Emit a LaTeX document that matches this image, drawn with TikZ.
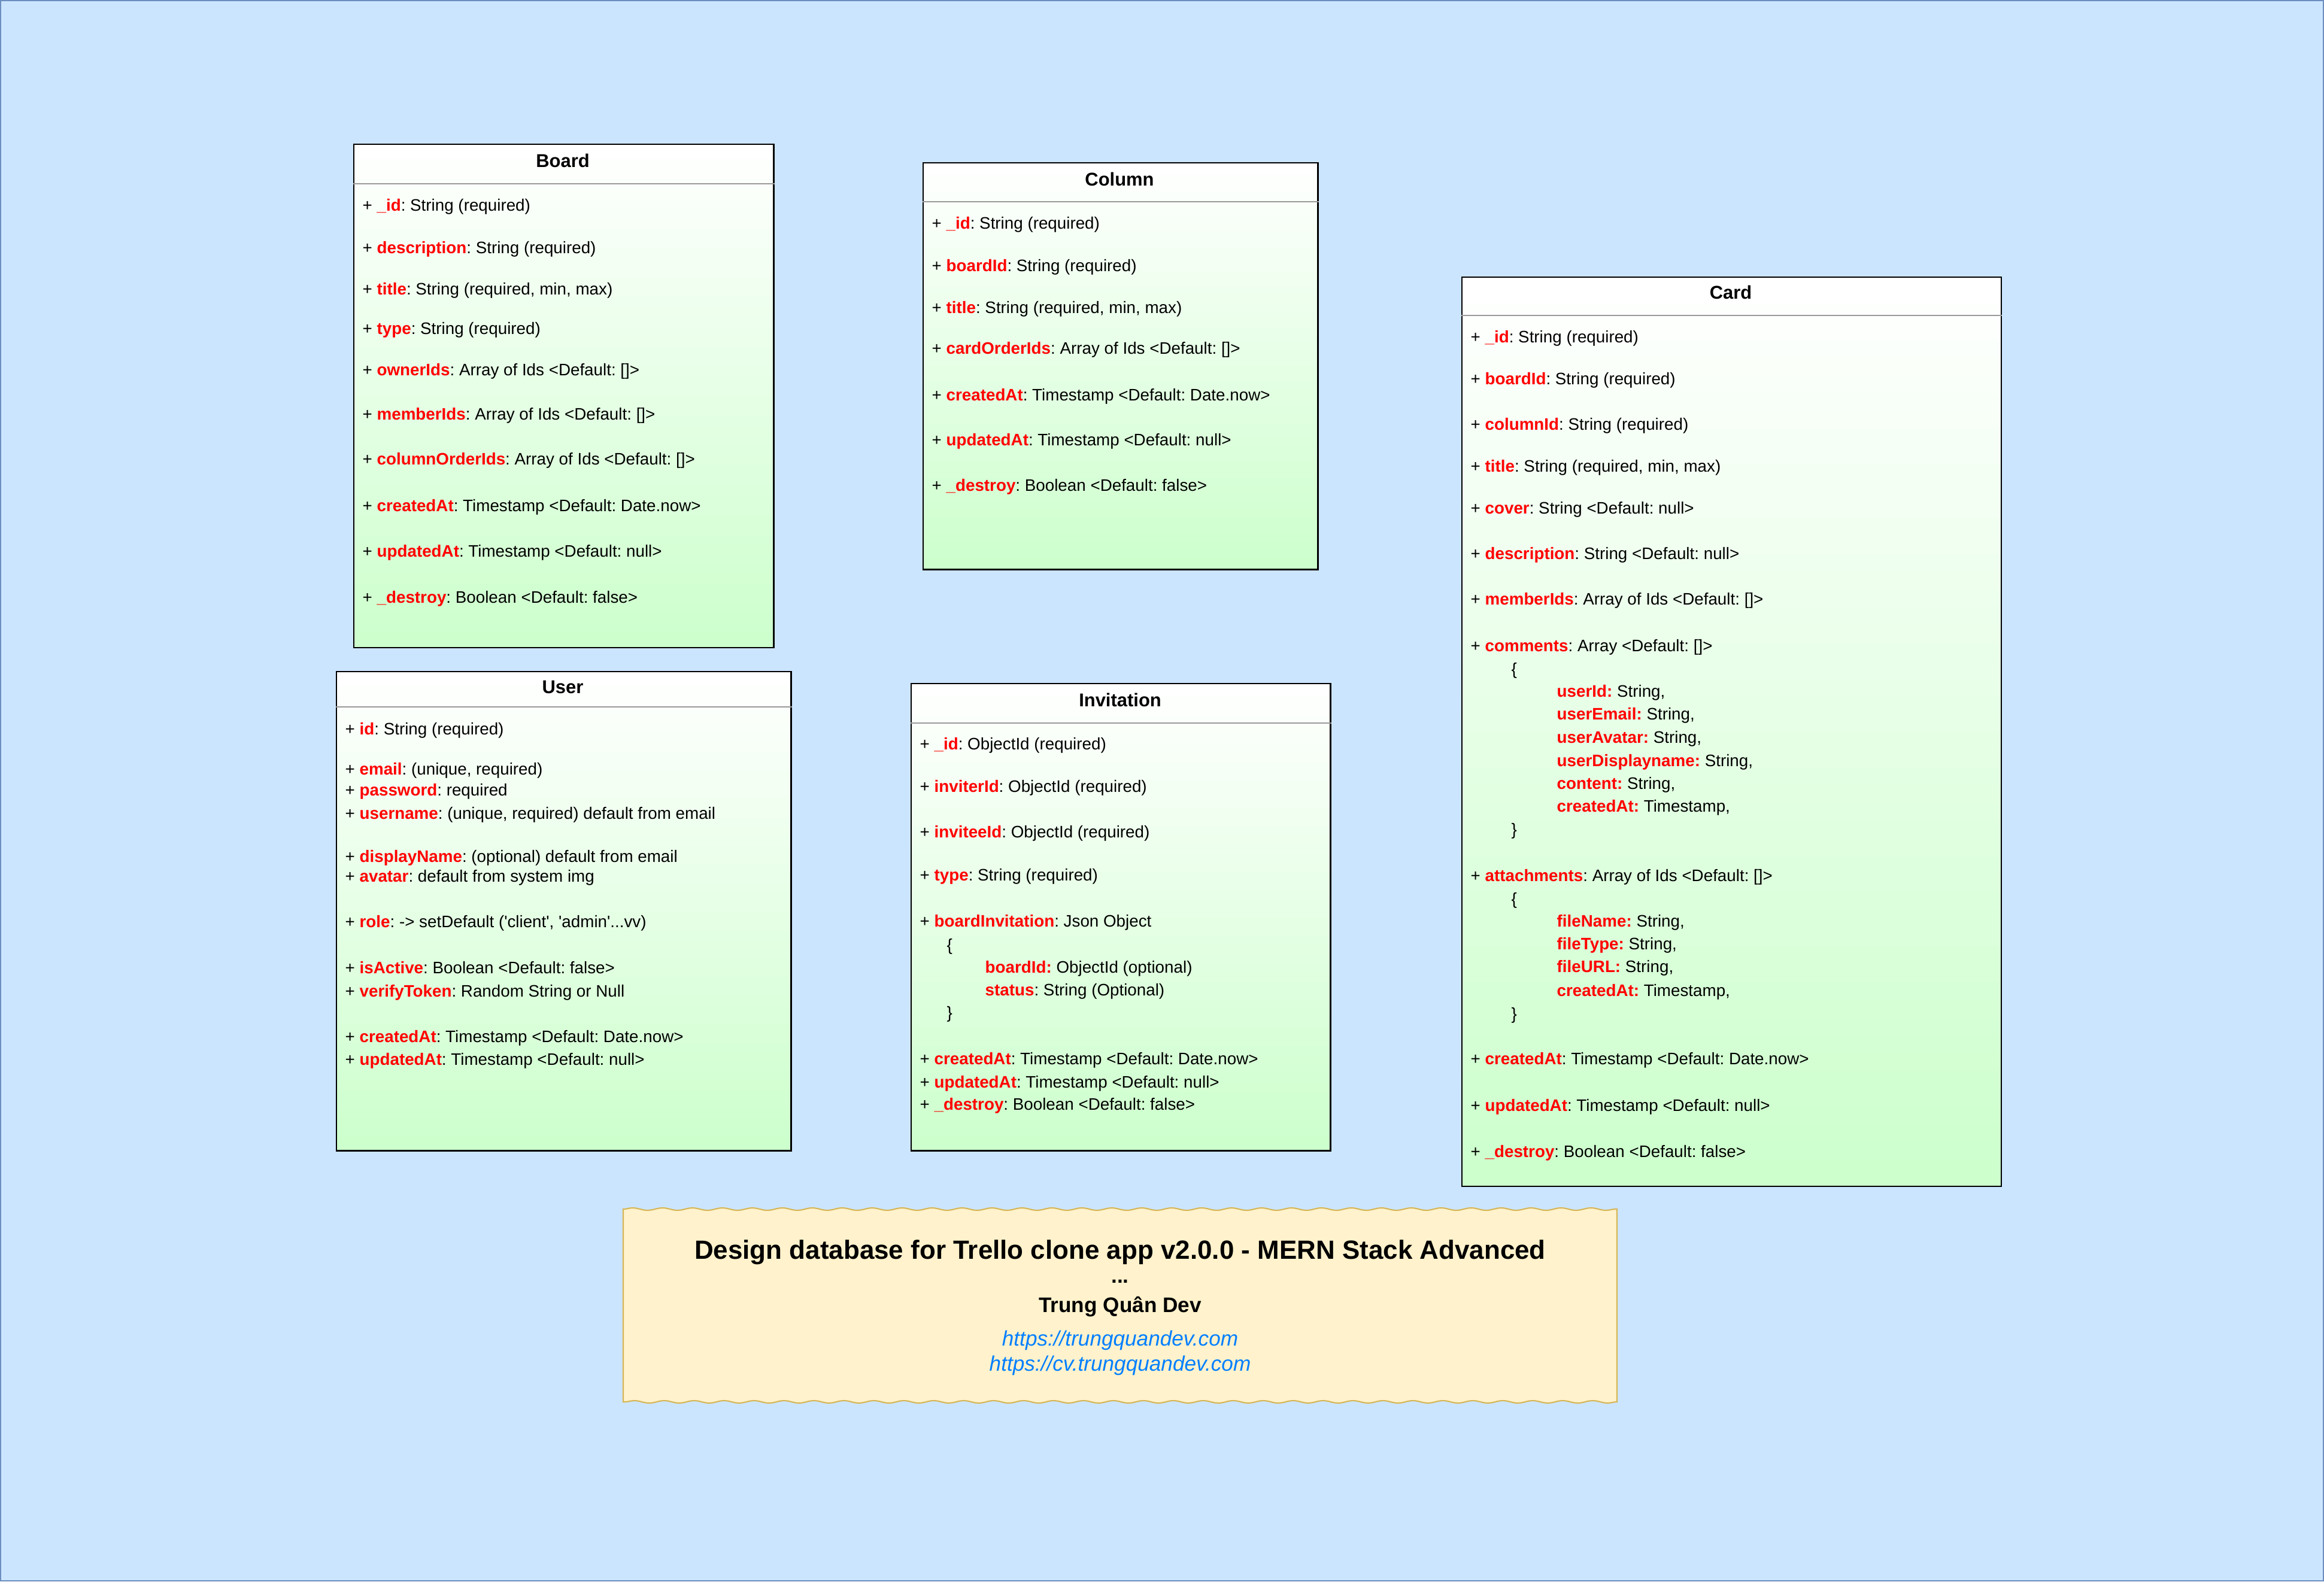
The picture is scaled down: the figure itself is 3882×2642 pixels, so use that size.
\documentclass[tikz,border=0pt]{standalone}
\usepackage{fontspec}
\setmainfont{Liberation Sans}
\definecolor{pagefill}{RGB}{204, 229, 255}
\definecolor{pageline}{RGB}{108, 142, 191}
\definecolor{keyred}{RGB}{255, 0, 0}
\definecolor{bodygreen}{RGB}{204, 255, 204}
\definecolor{notefill}{RGB}{255, 242, 204}
\definecolor{noteline}{RGB}{214, 182, 86}
\definecolor{linkblue}{RGB}{0, 127, 255}
\usetikzlibrary{decorations.pathmorphing}
\newcommand{\fieldname}[1]{\textcolor{keyred}{\textbf{#1}}}
\frenchspacing

\begin{document}
\begin{tikzpicture}[
        x=0.01cm, y=-0.01cm,
        classbox/.style={rectangle, draw=black, line width=0.6pt, top color=white,
                         bottom color=bodygreen, anchor=north west, inner sep=0pt},
        divider/.style={draw=black!40, line width=0.6pt},
        head/.style={inner sep=0pt, text height=0.22cm, text depth=0pt,
                     font=\fontsize{8.8}{10}\selectfont\bfseries},
        row/.style={anchor=west, inner sep=0pt, text height=0.2cm, text depth=0pt,
                    font=\fontsize{7.9}{9.5}\selectfont},
        notepaper/.style={fill=notefill, draw=noteline, line width=0.6pt,
                          decoration={snake, segment length=0.5cm, amplitude=0.02cm}},
        notetext/.style={inner sep=0pt, text depth=0pt}
    ]
        \useasboundingbox (0,0) rectangle (3882,2642);
        \draw[fill=pagefill, draw=pageline, line width=0.02cm] (1,1) rectangle (3881,2641);

        % Board
        \node[classbox, minimum width=7.01cm, minimum height=8.40cm] (board) at (590,240) {};
        \draw[divider] ([yshift=-0.67cm]board.north west) -- ([yshift=-0.67cm]board.north east);
        \node[head] (board-title) at (940,268) {Board};
        \node[row] (b1) at (605,342) {+ \fieldname{\_id}: String (required)};
        \node[row] (b2) at (605,413) {+ \fieldname{description}: String (required)};
        \node[row] (b3) at (605,482) {+ \fieldname{title}: String (required, min, max)};
        \node[row] (b4) at (605,548) {+ \fieldname{type}: String (required)};
        \node[row] (b5) at (605,617) {+ \fieldname{ownerIds}: Array of Ids <Default: []>};
        \node[row] (b6) at (605,691) {+ \fieldname{memberIds}: Array of Ids <Default: []>};
        \node[row] (b7) at (605,766) {+ \fieldname{columnOrderIds}: Array of Ids <Default: []>};
        \node[row] (b8) at (605,844) {+ \fieldname{createdAt}: Timestamp <Default: Date.now>};
        \node[row] (b9) at (605,920) {+ \fieldname{updatedAt}: Timestamp <Default: null>};
        \node[row] (b10) at (605,997) {+ \fieldname{\_destroy}: Boolean <Default: false>};

        % Column
        \node[classbox, minimum width=6.59cm, minimum height=6.79cm] (column) at (1541,271) {};
        \draw[divider] ([yshift=-0.66cm]column.north west) -- ([yshift=-0.66cm]column.north east);
        \node[head] (column-title) at (1870,299) {Column};
        \node[row] (c1) at (1556,372) {+ \fieldname{\_id}: String (required)};
        \node[row] (c2) at (1556,443) {+ \fieldname{boardId}: String (required)};
        \node[row] (c3) at (1556,513) {+ \fieldname{title}: String (required, min, max)};
        \node[row] (c4) at (1556,581) {+ \fieldname{cardOrderIds}: Array of Ids <Default: []>};
        \node[row] (c5) at (1556,659) {+ \fieldname{createdAt}: Timestamp <Default: Date.now>};
        \node[row] (c6) at (1556,734) {+ \fieldname{updatedAt}: Timestamp <Default: null>};
        \node[row] (c7) at (1556,810) {+ \fieldname{\_destroy}: Boolean <Default: false>};

        % Card
        \node[classbox, minimum width=9.00cm, minimum height=15.18cm] (card) at (2441,462) {};
        \draw[divider] ([yshift=-0.65cm]card.north west) -- ([yshift=-0.65cm]card.north east);
        \node[head] (card-title) at (2891,488) {Card};
        \node[row] (k1) at (2456,562) {+ \fieldname{\_id}: String (required)};
        \node[row] (k2) at (2456,632) {+ \fieldname{boardId}: String (required)};
        \node[row] (k3) at (2456,708) {+ \fieldname{columnId}: String (required)};
        \node[row] (k4) at (2456,778) {+ \fieldname{title}: String (required, min, max)};
        \node[row] (k5) at (2456,848) {+ \fieldname{cover}: String <Default: null>};
        \node[row] (k6) at (2456,924) {+ \fieldname{description}: String <Default: null>};
        \node[row] (k7) at (2456,1000) {+ \fieldname{memberIds}: Array of Ids <Default: []>};
        \node[row] (k8) at (2456,1078) {+ \fieldname{comments}: Array <Default: []>};
        \node[row] (k9) at (2524,1117) {\{};
        \node[row] (k10) at (2600,1154) {\fieldname{userId:} String,};
        \node[row] (k11) at (2600,1192) {\fieldname{userEmail:} String,};
        \node[row] (k12) at (2600,1231) {\fieldname{userAvatar:} String,};
        \node[row] (k13) at (2600,1270) {\fieldname{userDisplayname:} String,};
        \node[row] (k14) at (2600,1308) {\fieldname{content:} String,};
        \node[row] (k15) at (2600,1346) {\fieldname{createdAt:} Timestamp,};
        \node[row] (k16) at (2524,1385) {\}};
        \node[row] (k17) at (2456,1462) {+ \fieldname{attachments}: Array of Ids <Default: []>};
        \node[row] (k18) at (2524,1501) {\{};
        \node[row] (k19) at (2600,1538) {\fieldname{fileName:} String,};
        \node[row] (k20) at (2600,1576) {\fieldname{fileType:} String,};
        \node[row] (k21) at (2600,1614) {\fieldname{fileURL:} String,};
        \node[row] (k22) at (2600,1654) {\fieldname{createdAt:} Timestamp,};
        \node[row] (k23) at (2524,1693) {\}};
        \node[row] (k24) at (2456,1768) {+ \fieldname{createdAt}: Timestamp <Default: Date.now>};
        \node[row] (k25) at (2456,1846) {+ \fieldname{updatedAt}: Timestamp <Default: null>};
        \node[row] (k26) at (2456,1923) {+ \fieldname{\_destroy}: Boolean <Default: false>};

        % User
        \node[classbox, minimum width=7.59cm, minimum height=8.00cm] (user) at (561,1121) {};
        \draw[divider] ([yshift=-0.60cm]user.north west) -- ([yshift=-0.60cm]user.north east);
        \node[head] (user-title) at (940,1147) {User};
        \node[row] (u1) at (576,1217) {+ \fieldname{id}: String (required)};
        \node[row] (u2) at (576,1284) {+ \fieldname{email}: (unique, required)};
        \node[row] (u3) at (576,1319) {+ \fieldname{password}: required};
        \node[row] (u4) at (576,1358) {+ \fieldname{username}: (unique, required) default from email};
        \node[row] (u5) at (576,1430) {+ \fieldname{displayName}: (optional) default from email};
        \node[row] (u6) at (576,1463) {+ \fieldname{avatar}: default from system img};
        \node[row] (u7) at (576,1539) {+ \fieldname{role}: -> setDefault (\textquotesingle client\textquotesingle, \textquotesingle admin\textquotesingle...vv)};
        \node[row] (u8) at (576,1616) {+ \fieldname{isActive}: Boolean <Default: false>};
        \node[row] (u9) at (576,1655) {+ \fieldname{verifyToken}: Random String or Null};
        \node[row] (u10) at (576,1731) {+ \fieldname{createdAt}: Timestamp <Default: Date.now>};
        \node[row] (u11) at (576,1769) {+ \fieldname{updatedAt}: Timestamp <Default: null>};

        % Invitation
        \node[classbox, minimum width=7.00cm, minimum height=7.80cm] (invitation) at (1521,1141) {};
        \draw[divider] ([yshift=-0.67cm]invitation.north west) -- ([yshift=-0.67cm]invitation.north east);
        \node[head] (invitation-title) at (1871,1169) {Invitation};
        \node[row] (i1) at (1536,1242) {+ \fieldname{\_id}: ObjectId (required)};
        \node[row] (i2) at (1536,1313) {+ \fieldname{inviterId}: ObjectId (required)};
        \node[row] (i3) at (1536,1389) {+ \fieldname{inviteeId}: ObjectId (required)};
        \node[row] (i4) at (1536,1461) {+ \fieldname{type}: String (required)};
        \node[row] (i5) at (1536,1538) {+ \fieldname{boardInvitation}: Json Object};
        \node[row] (i6) at (1581,1578) {\{};
        \node[row] (i7) at (1645,1615) {\fieldname{boardId:} ObjectId (optional)};
        \node[row] (i8) at (1645,1653) {\fieldname{status}: String (Optional)};
        \node[row] (i9) at (1581,1691) {\}};
        \node[row] (i10) at (1536,1768) {+ \fieldname{createdAt}: Timestamp <Default: Date.now>};
        \node[row] (i11) at (1536,1807) {+ \fieldname{updatedAt}: Timestamp <Default: null>};
        \node[row] (i12) at (1536,1844) {+ \fieldname{\_destroy}: Boolean <Default: false>};

        % Title note
        \path[notepaper] (1041,2020) decorate {-- (2701,2020)} -- (2701,2342)
            decorate {-- (1041,2342)} -- cycle;
        \node[notetext, text height=0.315cm, font=\fontsize{12.5}{14}\selectfont\bfseries] (title) at (1871,2088)
            {Design database for Trello clone app v2.0.0 - MERN Stack Advanced};
        \node[notetext, anchor=base, font=\fontsize{10}{12}\selectfont\bfseries] (dots) at (1871,2143) {...};
        \node[notetext, text height=0.25cm, font=\fontsize{10}{12}\selectfont\bfseries] (author) at (1871,2180)
            {Trung Quân Dev};
        \node[notetext, text height=0.25cm, text=linkblue, font=\fontsize{10}{12}\selectfont\itshape] (site) at (1871,2236)
            {https://trungquandev.com};
        \node[notetext, text height=0.25cm, text=linkblue, font=\fontsize{10}{12}\selectfont\itshape] (cv) at (1871,2278)
            {https://cv.trungquandev.com};
    \end{tikzpicture}
\end{document}
